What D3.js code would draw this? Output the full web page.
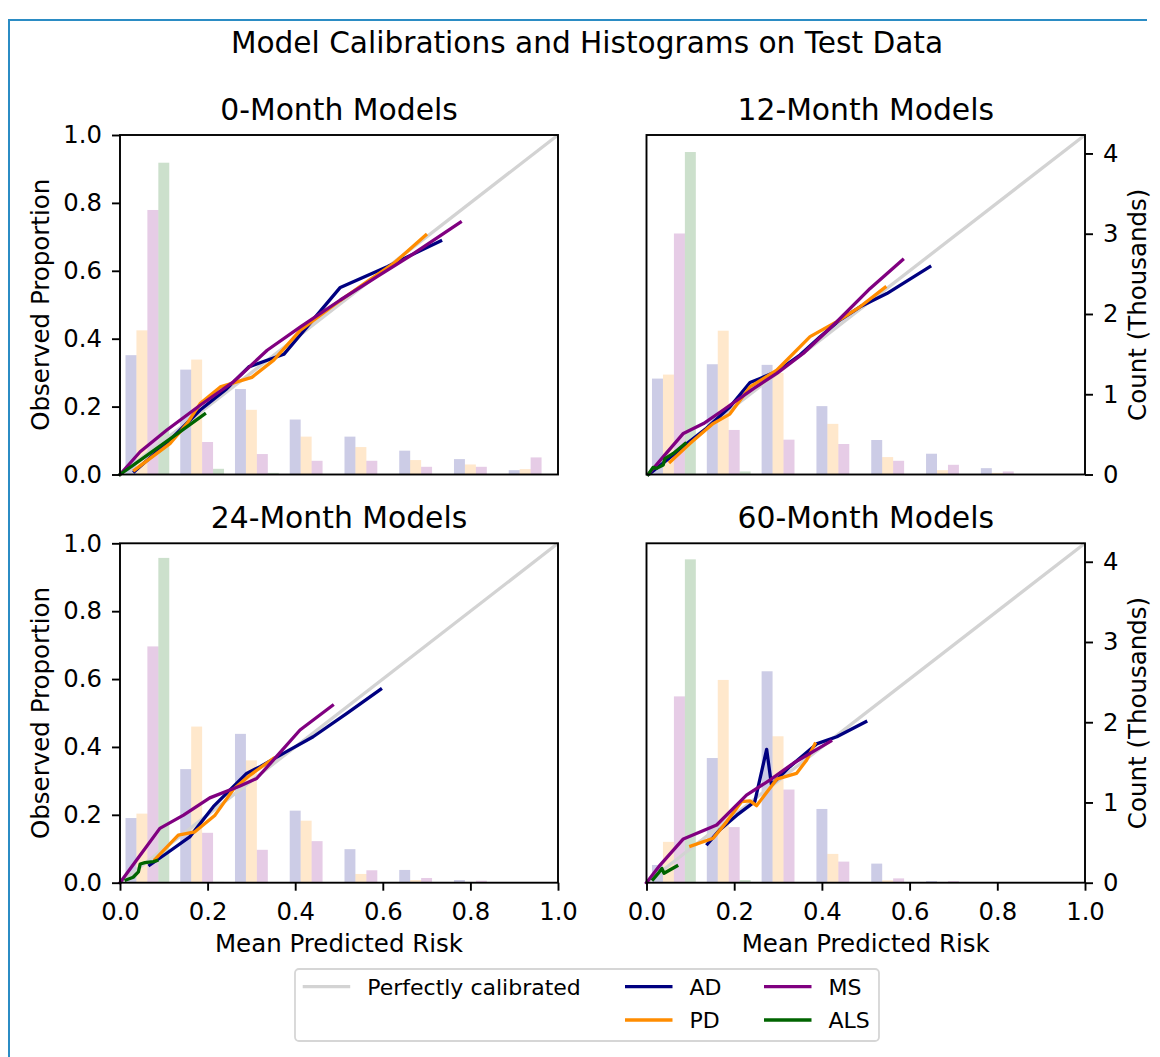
<!DOCTYPE html>
<html><head><meta charset="utf-8">
<script src="https://cdn.jsdelivr.net/npm/d3@7"></script>
<style>body{margin:0;background:#fff} svg{display:block} text{font-family:"DejaVu Sans",sans-serif;fill:#000}</style>
</head><body><svg id="c" width="1160" height="1057"></svg>
<script>
// ---------------- data ----------------
const mainTitle = "Model Calibrations and Histograms on Test Data";
const panelTitles = ["0-Month Models", "12-Month Models", "24-Month Models", "60-Month Models"];
const diseases = ["AD", "PD", "MS", "ALS"];
const diseaseColors = ["#000080", "#ff8c00", "#800080", "#006400"];
const diagonalLabel = "Perfectly calibrated";
const binEdges = [0, 0.125, 0.25, 0.375, 0.5, 0.625, 0.75, 0.875, 1.0];
const xTicks = [0, 0.2, 0.4, 0.6, 0.8, 1.0];
const yTicks = [0, 0.2, 0.4, 0.6, 0.8, 1.0];
const countTicks = [0, 1, 2, 3, 4];
const countMax = 4.23;

// histogram counts (thousands) per bin, rows: AD, PD, MS, ALS
const counts0m = [
  [1.487, 1.307, 1.065, 0.685, 0.472, 0.297, 0.192, 0.054],
  [1.796, 1.432, 0.806, 0.472, 0.342, 0.180, 0.125, 0.067],
  [3.296, 0.405, 0.255, 0.171, 0.171, 0.096, 0.096, 0.213],
  [3.885, 0.071, 0.020, 0.005, 0, 0, 0, 0]
];
const counts12m = [
  [1.195, 1.374, 1.366, 0.852, 0.430, 0.259, 0.079, 0],
  [1.245, 1.792, 1.266, 0.631, 0.217, 0.054, 0.020, 0],
  [3.003, 0.555, 0.434, 0.380, 0.171, 0.121, 0.038, 0],
  [4.018, 0.038, 0, 0, 0, 0, 0, 0]
];
const counts24m = [
  [0.806, 1.416, 1.855, 0.898, 0.418, 0.159, 0.033, 0],
  [0.861, 1.946, 1.525, 0.773, 0.109, 0.033, 0.004, 0],
  [2.945, 0.622, 0.410, 0.518, 0.155, 0.059, 0.025, 0],
  [4.048, 0.010, 0, 0, 0, 0, 0, 0]
];
const counts60m = [
  [0.221, 1.554, 2.635, 0.919, 0.238, 0.020, 0, 0],
  [0.509, 2.527, 1.825, 0.359, 0.029, 0, 0, 0],
  [2.322, 0.693, 1.161, 0.263, 0.054, 0.020, 0, 0],
  [4.030, 0.033, 0, 0, 0, 0, 0, 0]
];

// calibration curves [meanPredicted, observed], rows: AD, PD, MS, ALS
const cal0m = [
  [[0.033,0.009],[0.114,0.101],[0.183,0.19],[0.244,0.253],[0.294,0.317],[0.374,0.354],[0.427,0.435],[0.503,0.551],[0.61,0.612],[0.656,0.641],[0.732,0.688]],
  [[0.033,0.013],[0.114,0.091],[0.153,0.15],[0.183,0.209],[0.229,0.258],[0.301,0.286],[0.351,0.337],[0.412,0.425],[0.488,0.499],[0.564,0.568],[0.625,0.622],[0.698,0.705]],
  [[0.0,0.0],[0.046,0.067],[0.107,0.131],[0.183,0.204],[0.259,0.273],[0.336,0.366],[0.412,0.435],[0.503,0.514],[0.587,0.583],[0.671,0.651],[0.777,0.743]],
  [[0.0,0.0],[0.06,0.055],[0.12,0.11],[0.193,0.178]]
];
const cal12m = [
  [[0.008,0.003],[0.046,0.042],[0.092,0.091],[0.137,0.136],[0.19,0.199],[0.236,0.271],[0.259,0.283],[0.297,0.303],[0.35,0.352],[0.396,0.406],[0.441,0.455],[0.487,0.494],[0.548,0.533],[0.646,0.612]],
  [[0.054,0.037],[0.099,0.091],[0.152,0.15],[0.19,0.178],[0.236,0.258],[0.297,0.307],[0.373,0.406],[0.434,0.45],[0.487,0.494],[0.544,0.551]],
  [[0.004,0.0],[0.038,0.052],[0.084,0.121],[0.13,0.15],[0.175,0.19],[0.244,0.253],[0.297,0.298],[0.358,0.357],[0.434,0.45],[0.51,0.548],[0.584,0.632]],
  [[0.004,0.0],[0.015,0.021],[0.023,0.018],[0.038,0.028],[0.042,0.047],[0.061,0.062],[0.088,0.091]]
];
const cal24m = [
  [[0.068,0.052],[0.106,0.086],[0.16,0.136],[0.213,0.224],[0.289,0.322],[0.32,0.342],[0.373,0.381],[0.441,0.43],[0.518,0.499],[0.595,0.57]],
  [[0.08,0.069],[0.133,0.14],[0.171,0.15],[0.217,0.199],[0.259,0.275],[0.297,0.317],[0.35,0.366]],
  [[0.0,0.0],[0.038,0.067],[0.091,0.16],[0.145,0.199],[0.205,0.25],[0.274,0.285],[0.312,0.307],[0.35,0.361],[0.411,0.45],[0.485,0.522]],
  [[0.014,0.008],[0.03,0.016],[0.042,0.032],[0.046,0.055],[0.057,0.059],[0.076,0.062],[0.084,0.065]]
];
const cal60m = [
  [[0.139,0.114],[0.168,0.157],[0.206,0.199],[0.247,0.239],[0.274,0.393],[0.285,0.288],[0.327,0.342],[0.388,0.409],[0.434,0.43],[0.5,0.474]],
  [[0.101,0.108],[0.152,0.131],[0.183,0.18],[0.217,0.239],[0.236,0.241],[0.251,0.227],[0.297,0.305],[0.342,0.322],[0.365,0.361],[0.384,0.409]],
  [[0.0,0.0],[0.031,0.052],[0.084,0.129],[0.16,0.17],[0.228,0.258],[0.282,0.303],[0.335,0.352],[0.42,0.417]],
  [[0.015,0.01],[0.027,0.028],[0.035,0.042],[0.04,0.028],[0.069,0.049]]
];

const panelCounts = [counts0m, counts12m, counts24m, counts60m];
const panelCals = [cal0m, cal12m, cal24m, cal60m];

// ---------------- layout ----------------
const colX = [[120, 558], [646.5, 1085]];
const rowY = [[474.5, 135], [882.7, 543.3]];
const FS_TICK = 24.3, FS_LABEL = 24.5, FS_TITLE = 29.8, FS_SUP = 29.6, FS_LEG = 22;
const LW = 3.3, AXW = 1.9;

const svg = d3.select("#c");
svg.append("rect").attr("x", 0).attr("y", 0).attr("width", 1160).attr("height", 1057).attr("fill", "#fff");
// outer blue frame (left and top edges visible)
svg.append("path").attr("d", "M9,1060V20H1147")
  .attr("fill", "none").attr("stroke", "#2b8cc4").attr("stroke-width", 2);

svg.append("text").attr("x", 587).attr("y", 53).attr("text-anchor", "middle")
  .style("font-size", FS_SUP + "px").text(mainTitle);

panelTitles.forEach((title, p) => {
  const c = p % 2, r = Math.floor(p / 2);
  const [x0, x1] = colX[c];
  const [yb, yt] = rowY[r];
  const x = d3.scaleLinear().domain([0, 1]).range([x0, x1]);
  const y = d3.scaleLinear().domain([0, 1]).range([yb, yt]);
  const yc = d3.scaleLinear().domain([0, countMax]).range([yb, yt]);
  const g = svg.append("g");

  // histogram bars (matplotlib style grouped: rwidth 0.8)
  const counts = panelCounts[p];
  const nSeries = diseases.length;
  counts.forEach((row, s) => {
    row.forEach((v, b) => {
      const bw = binEdges[b + 1] - binEdges[b];
      const left = binEdges[b] + bw * 0.1 + s * (bw * 0.8 / nSeries);
      const right = left + bw * 0.8 / nSeries;
      if (v <= 0) return;
      g.append("rect")
        .attr("x", x(left)).attr("width", x(right) - x(left))
        .attr("y", yc(v)).attr("height", yc(0) - yc(v))
        .attr("fill", diseaseColors[s]).attr("fill-opacity", 0.2);
    });
  });

  // perfectly calibrated diagonal
  g.append("line").attr("x1", x(0)).attr("y1", y(0)).attr("x2", x(1)).attr("y2", y(1))
    .attr("stroke", "#d3d3d3").attr("stroke-width", LW);

  const line = d3.line().x(d => x(d[0])).y(d => y(d[1]));
  panelCals[p].forEach((pts, s) => {
    g.append("path").attr("d", line(pts)).attr("fill", "none")
      .attr("stroke", diseaseColors[s]).attr("stroke-width", LW)
      .attr("stroke-linejoin", "round").attr("stroke-linecap", "square");
  });

  // frame
  g.append("rect").attr("x", x0).attr("y", yt).attr("width", x1 - x0).attr("height", yb - yt)
    .attr("fill", "none").attr("stroke", "#000").attr("stroke-width", AXW);

  if (c === 0) {
    const ax = g.append("g").attr("transform", `translate(${x0},0)`)
      .call(d3.axisLeft(y).tickValues(yTicks).tickFormat(d3.format(".1f")).tickSize(8).tickSizeOuter(0).tickPadding(10));
    ax.select(".domain").remove();
    ax.selectAll("line").attr("stroke", "#000").attr("stroke-width", AXW);
    ax.selectAll("text").style("font-size", FS_TICK + "px").attr("font-family", null);
    g.append("text").attr("transform", `translate(48.5,${(yb + yt) / 2}) rotate(-90)`)
      .attr("text-anchor", "middle").style("font-size", FS_LABEL + "px").text("Observed Proportion");
  } else {
    const ax = g.append("g").attr("transform", `translate(${x1},0)`)
      .call(d3.axisRight(yc).tickValues(countTicks).tickFormat(d3.format("d")).tickSize(8).tickSizeOuter(0).tickPadding(10));
    ax.select(".domain").remove();
    ax.selectAll("line").attr("stroke", "#000").attr("stroke-width", AXW);
    ax.selectAll("text").style("font-size", FS_TICK + "px").attr("font-family", null);
    g.append("text").attr("transform", `translate(1146,${(yb + yt) / 2}) rotate(-90)`)
      .attr("text-anchor", "middle").style("font-size", FS_LABEL + "px").text("Count (Thousands)");
  }

  if (r === 1) {
    const ax = g.append("g").attr("transform", `translate(0,${yb})`)
      .call(d3.axisBottom(x).tickValues(xTicks).tickFormat(d3.format(".1f")).tickSize(8).tickSizeOuter(0).tickPadding(12));
    ax.select(".domain").remove();
    ax.selectAll("line").attr("stroke", "#000").attr("stroke-width", AXW);
    ax.selectAll("text").style("font-size", FS_TICK + "px").attr("font-family", null);
    g.append("text").attr("x", (x0 + x1) / 2).attr("y", 952).attr("text-anchor", "middle")
      .style("font-size", FS_LABEL + "px").text("Mean Predicted Risk");
  }

  g.append("text").attr("x", (x0 + x1) / 2).attr("y", yt - 15).attr("text-anchor", "middle")
    .style("font-size", FS_TITLE + "px").text(title);
});

// ---------------- legend ----------------
const leg = svg.append("g");
leg.append("rect").attr("x", 295).attr("y", 969).attr("width", 584).attr("height", 72).attr("rx", 4)
  .attr("fill", "#fff").attr("stroke", "#d6d6d6").attr("stroke-width", 1.8);
const legItems = [{label: diagonalLabel, color: "#d3d3d3"}].concat(diseases.map((d, i) => ({label: d, color: diseaseColors[i]})));
const legSlots = [[302.7, 986.7], [625, 986.7], [625, 1020], [764, 986.7], [764, 1020]];
legItems.forEach((it, i) => {
  const [lx, ly] = legSlots[i];
  leg.append("line").attr("x1", lx).attr("x2", lx + 47.5).attr("y1", ly).attr("y2", ly)
    .attr("stroke", it.color).attr("stroke-width", LW);
  leg.append("text").attr("x", lx + 64.5).attr("y", ly + 8).style("font-size", FS_LEG + "px").text(it.label);
});
</script></body></html>
